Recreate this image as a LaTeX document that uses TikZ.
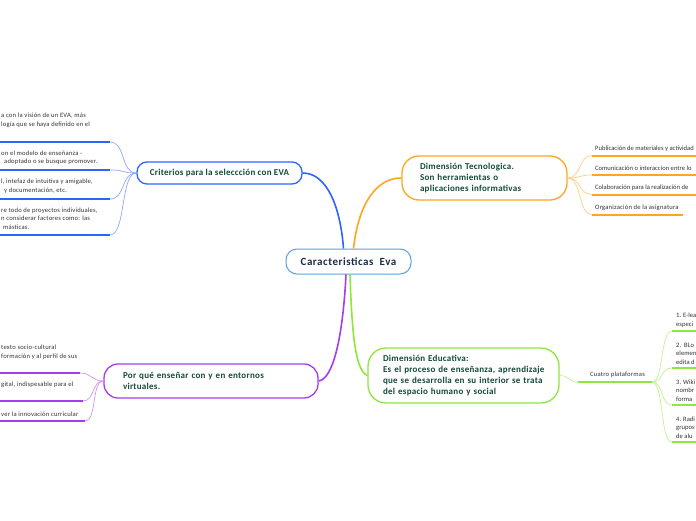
\documentclass[tikz,border=0pt]{standalone}
\usepackage{fontspec}
\setmainfont{Carlito}
\newfontfamily\lsthree[LetterSpace=3]{Carlito}
\newfontfamily\lsfive[LetterSpace=5]{Carlito}
\definecolor{bl}{HTML}{2E64FE}
\definecolor{og}{HTML}{FFA51F}
\definecolor{gr}{HTML}{8FE63C}
\definecolor{pu}{HTML}{A63CF0}
\definecolor{cb}{HTML}{5AA0DC}
\definecolor{btext}{HTML}{134A3A}
\definecolor{ctext}{HTML}{1C2B4C}
\definecolor{ltext}{HTML}{333333}
\begin{document}
\begin{tikzpicture}[x=1pt,y=-1pt,
  central/.style={draw=cb, line width=1pt, rounded corners=11pt, fill=white,
    minimum width=125pt, minimum height=25pt, inner sep=0pt,
    font=\lsfive\fontsize{11}{13}\selectfont\bfseries, text=ctext},
  branch/.style={draw=#1, line width=1.3pt, fill=white, text=btext,
    font=\lsthree\fontsize{9}{11}\selectfont\bfseries, align=left, inner sep=0pt},
  leaf/.style={text=ltext, font=\lsthree\fontsize{6.6}{8.5}\selectfont, align=left, inner sep=0pt},
  edgeleaf/.style={leaf, font=\fontsize{6.6}{8.5}\selectfont},
  mainc/.style={line width=1.6pt, draw=#1},
  subc/.style={line width=0.7pt, draw=#1!55},
  ul/.style={line width=2pt, draw=#1}]
\useasboundingbox (0,0) rectangle (696,520);
\clip (0,0) rectangle (696,520);

% ---------- central and branch nodes
\node[central] (c) at (348.5,261.5) {Caracteristicas\ \ Eva};
\node[branch=bl, rounded corners=10pt, minimum width=165pt, minimum height=22pt, align=center]
  (crit) at (219.5,173) {Criterios para la seleccción con EVA};
\node[branch=og, rounded corners=17pt, minimum width=165pt, minimum height=44pt, text width=129pt]
  (tec) at (484.5,178) {Dimensión Tecnologica.\\Son herramientas o\\aplicaciones informativas};
\node[branch=gr, rounded corners=18pt, minimum width=191pt, minimum height=55pt, text width=161pt]
  (edu) at (463.5,375.5) {\mbox{Dimensión Educativa:}\\\mbox{Es el proceso de enseñanza, aprendizaje}\\\mbox{que se desarrolla en su interior se trata}\\\mbox{del espacio humano y social}};
\node[branch=pu, rounded corners=14pt, minimum width=214pt, minimum height=34pt, text width=176pt]
  (por) at (211,381) {Por qué enseñar con y en entornos\\virtuales.};

% ---------- main connectors
\draw[mainc=bl] ([xshift=-5pt]c.north) .. controls +(-3,-40) and +(25,0) .. (crit.east);
\draw[mainc=og] ([xshift=5pt]c.north) .. controls +(5,-45) and +(-25,0) .. (tec.west);
\draw[mainc=pu] ([xshift=-2.5pt]c.south) .. controls +(-3,60) and +(15,-2) .. (por.east);
\draw[mainc=gr] ([xshift=1.5pt]c.south) .. controls +(2,60) and +(-12,-5) .. (edu.west);

% ---------- orange leaves (Dimension Tecnologica)
\coordinate (o1a) at (592,155.5); \coordinate (o1b) at (700,155.5);
\coordinate (o2a) at (592,175);   \coordinate (o2b) at (700,175);
\coordinate (o3a) at (592,194.5); \coordinate (o3b) at (700,194.5);
\coordinate (o4a) at (592,214.5); \coordinate (o4b) at (683,214.5);
\foreach \i in {1,2,3,4}{
  \draw[subc=og] (tec.east) .. controls +(14,0) and +(-14,0) .. (o\i a);
  \draw[ul=og] (o\i a) -- (o\i b);
}
\node[edgeleaf, anchor=west] (ot1) at (595,148.5) {Publicación de materiales y actividad};
\node[edgeleaf, anchor=west] (ot2) at (595,168) {Comunicación o interaccion entre lo};
\node[edgeleaf, anchor=west] (ot3) at (595,187.5) {Colaboración para la realización de};
\node[leaf, anchor=west] (ot4) at (595,207.5) {Organización de la asignatura};

% ---------- blue leaves (Criterios)
\coordinate (b1a) at (-5,142); \coordinate (b1b) at (110,142);
\coordinate (b2a) at (-5,170); \coordinate (b2b) at (110,170);
\coordinate (b3a) at (-5,199); \coordinate (b3b) at (110,199);
\coordinate (b4a) at (-5,235); \coordinate (b4b) at (110,235);
\foreach \i in {1,2,3,4}{
  \draw[subc=bl] (crit.west) .. controls +(-16,0) and +(16,0) .. (b\i b);
  \draw[ul=bl] (b\i a) -- (b\i b);
}
\node[leaf, anchor=west] (bt1) at (1,120.3) {a con la visión de un EVA, más\\logía que se haya definido en el};
\node[leaf, anchor=west] (bt2) at (1,157.5) {on el modelo de enseñanza -\\\hspace{3pt}adoptado o se busque promover.};
\node[leaf, anchor=west] (bt3) at (1,186) {l, intefaz de intuitiva y amigable,\\\hspace{3pt}y documentación, etc.};
\node[leaf, anchor=west] (bt4) at (1,218.5) {re todo de proyectos individuales,\\n considerar factores como: las\\\hspace{2pt}másticas.};

% ---------- purple leaves (Por que)
\coordinate (p1a) at (-5,373); \coordinate (p1b) at (80,373);
\coordinate (p2a) at (-5,401); \coordinate (p2b) at (83,401);
\coordinate (p3a) at (-5,421); \coordinate (p3b) at (85,421);
\foreach \i in {1,2,3}{
  \draw[subc=pu] (por.west) .. controls +(-12,0) and +(12,0) .. (p\i b);
  \draw[ul=pu] (p\i a) -- (p\i b);
}
\node[leaf, anchor=west] (pt1) at (1,352) {texto socio-cultural\\formación y al perfil de sus};
\node[leaf, anchor=west] (pt2) at (1,385) {gital, indispesable para el};
\node[leaf, anchor=west] (pt3) at (1,414) {ver la innovación curricular};

% ---------- green leaves (Dimension Educativa)
\coordinate (cua-l) at (578,382); \coordinate (cua-r) at (652,382);
\draw[subc=gr] (edu.east) .. controls +(10,0) and +(-10,0) .. (cua-l);
\draw[ul=gr] (cua-l) -- (cua-r);
\node[leaf, anchor=west] (cua) at (590,375) {Cuatro plataformas};
\coordinate (g1a) at (672,331); \coordinate (g1b) at (700,331);
\coordinate (g2a) at (672,368); \coordinate (g2b) at (700,368);
\coordinate (g3a) at (672,405); \coordinate (g3b) at (700,405);
\coordinate (g4a) at (672,442); \coordinate (g4b) at (700,442);
\foreach \i in {1,2,3,4}{
  \draw[subc=gr] (cua-r) .. controls +(12,0) and +(-12,0) .. (g\i a);
  \draw[ul=gr] (g\i a) -- (g\i b);
}
\node[edgeleaf, anchor=west] (gt1) at (676,320.3) {1. E-lea\\especi};
\node[edgeleaf, anchor=west] (gt2) at (676,353.5) {2.\ \ BLo\\elemen\\edita d};
\node[edgeleaf, anchor=west] (gt3) at (676,390.5) {3. Wiki\\nombr\\forma};
\node[edgeleaf, anchor=west] (gt4) at (676,427.5) {4. Radi\\grupos\\de alu};
\end{tikzpicture}
\end{document}
